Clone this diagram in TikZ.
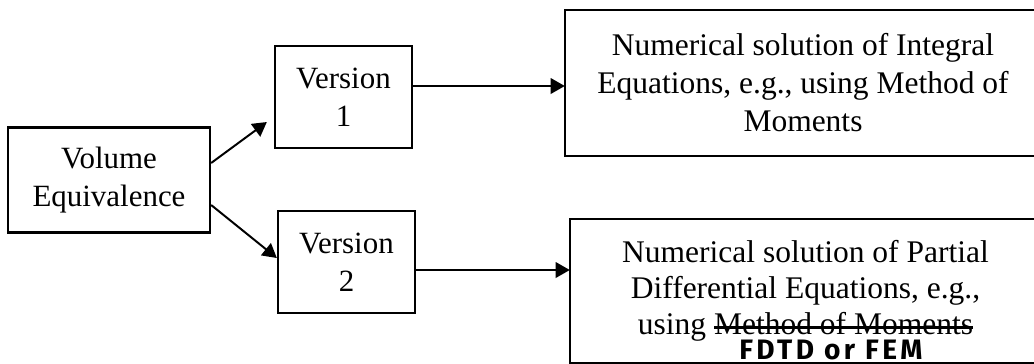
\documentclass[tikz,border=0pt]{standalone}
\usepackage{fontspec}
\setmainfont{Liberation Serif}
\newfontfamily\handfont[LetterSpace=12]{Fira Sans Bold}
\usetikzlibrary{arrows.meta, positioning, calc}
\tikzset{
    block/.style={
        rectangle,
        draw=black,
        line width=0.8pt,
        align=center,
        inner sep=0pt,
        font=\fontsize{11}{13.5}\selectfont,
    },
    wide block/.style={
        block,
        draw=none,
        font=\fontsize{11.2}{13.5}\selectfont,
    },
    frame/.style={
        line width=0.8pt,
    },
    link/.style={
        line width=0.7pt,
        -{Triangle[length=5pt,width=5.5pt]},
    },
}
\newsavebox\strikebox
\newcommand{\struck}[1]{\sbox\strikebox{#1}\rlap{\rule[0.38ex]{\wd\strikebox}{1.2pt}}\usebox\strikebox}
\begin{document}
\begin{tikzpicture}[x=0.0125cm, y=-0.0125cm]
      \useasboundingbox (0,0) rectangle (1034,363);
      \clip (0,0) rectangle (1034,363);

      \node[block, minimum width=2.525cm, minimum height=1.31cm] (vol) at (109,180) {Volume\\Equivalence};

      \node[block, minimum width=1.7125cm, minimum height=1.275cm] (v1) at (343.5,97) {Version\\1};

      \node[block, minimum width=1.7125cm, minimum height=1.275cm] (v2) at (346.5,262) {Version\\2};

      \node[wide block, minimum width=5.925cm, minimum height=1.8cm] (ie) at (803,83) {Numerical solution of Integral\\Equations, e.g., using Method of\\Moments};

      \node[wide block, font=\fontsize{11.2}{12.8}\selectfont, minimum width=5.8625cm, minimum height=1.775cm] (pde) at (805.5,291) {Numerical solution of Partial\\Differential Equations, e.g.,\\using \struck{Method of Moments}};

      % these two boxes run on past the right edge
      \draw[frame] ($(ie.north east)+(60,0)$) -- (ie.north west) -- (ie.south west) -- ($(ie.south east)+(60,0)$);
      \draw[frame] ($(pde.north east)+(60,0)$) -- (pde.north west) -- (pde.south west) -- ($(pde.south east)+(60,0)$);

      \node[font=\handfont\fontsize{10}{11}\selectfont, inner sep=0pt] (fem) at (831,350) {FDTD or FEM};

      \coordinate (v1in) at ([shift={(-7,25)}]v1.west);
      \coordinate (v2in) at ([shift={(0,-4)}]v2.west);
      \coordinate (v1out) at ([shift={(0,-11)}]v1.east);
      \coordinate (v2out) at ([shift={(0,8)}]v2.east);

      \draw[link] ([shift={(0,-17)}]vol.east) -- (v1in);
      \draw[link] ([shift={(0,25)}]vol.east) -- (v2in);
      \draw[link] (v1out) -- (v1out -| ie.west);
      \draw[link] (v2out) -- (v2out -| pde.west);
    \end{tikzpicture}
\end{document}
